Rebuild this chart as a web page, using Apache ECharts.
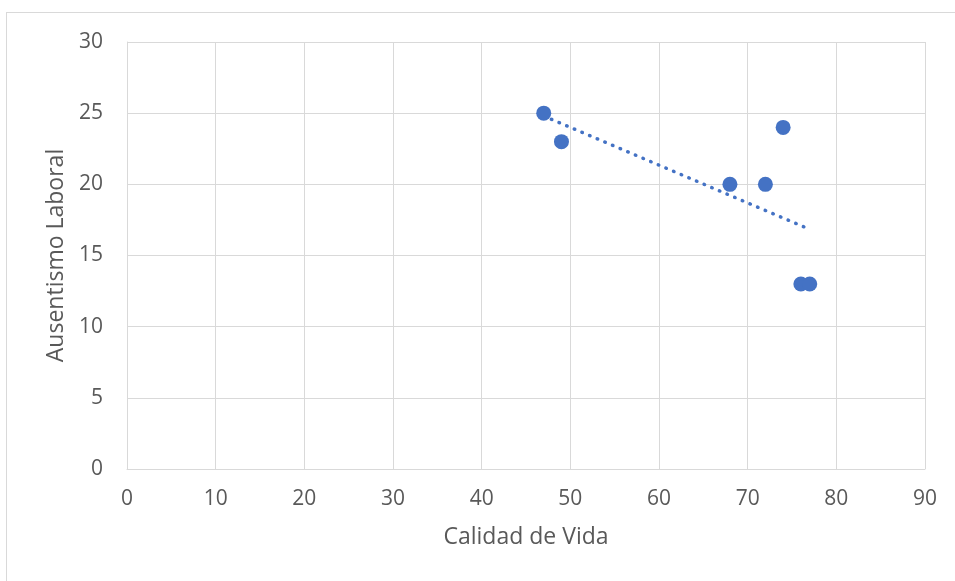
<!DOCTYPE html>
<html lang="es">
<head>
    <meta charset="utf-8">
    <script src="https://cdn.jsdelivr.net/npm/echarts@6/dist/echarts.min.js"></script>
</head>
<body style="margin: 0; background: #fff">
<div style="position: absolute; left: 6px; top: 12px; width: 960px; height: 600px; border: 1px solid #d9d9d9;"></div>
<div id="main" style="position: absolute; left: 0; top: 0; width: 955px; height: 581px"></div>
<script type="text/javascript">
    // valores
    var calidadVida = [47, 49, 68, 72, 74, 76, 77];
    var ausentismo = [25, 23, 20, 20, 24, 13, 13];
    // extremos de la línea de tendencia
    var tendenciaX = [47, 76.4];
    var tendenciaY = [24.8, 17.0];

    var puntos = calidadVida.map(function (x, i) { return [x, ausentismo[i]]; });
    var tendencia = tendenciaX.map(function (x, i) { return [x, tendenciaY[i]]; });

    var chart = echarts.init(document.getElementById('main'));
    var txt = { color: '#595959', fontSize: 21, fontFamily: 'Open Sans' };
    var nombre = { color: '#595959', fontSize: 23, fontFamily: 'Open Sans' };

    chart.setOption({
        animation: false,
        grid: { left: 127, right: 30, top: 42, bottom: 112 },
        xAxis: {
            type: 'value', min: 0, max: 90, interval: 10,
            name: 'Calidad de Vida', nameLocation: 'middle', nameGap: 57,
            nameTextStyle: nombre,
            axisLabel: Object.assign({ margin: 20 }, txt),
            axisLine: { show: true, lineStyle: { color: '#d9d9d9' } },
            axisTick: { show: false },
            splitLine: { show: true, lineStyle: { color: '#d9d9d9', width: 1 } }
        },
        yAxis: {
            type: 'value', min: 0, max: 30, interval: 5,
            name: 'Ausentismo Laboral', nameLocation: 'middle', nameGap: 57,
            nameTextStyle: nombre,
            axisLabel: Object.assign({ margin: 24 }, txt),
            axisLine: { show: true, lineStyle: { color: '#d9d9d9' } },
            axisTick: { show: false },
            splitLine: { show: true, lineStyle: { color: '#d9d9d9', width: 1 } }
        },
        series: [
            {
                type: 'line',
                data: tendencia,
                symbol: 'none',
                lineStyle: { color: '#4472C4', width: 3.5, type: [0.5, 7.8], cap: 'round' },
                z: 1
            },
            {
                type: 'scatter',
                data: puntos,
                symbolSize: 15,
                itemStyle: { color: '#4472C4', opacity: 1 },
                z: 2
            }
        ]
    });
</script>
</body>
</html>
